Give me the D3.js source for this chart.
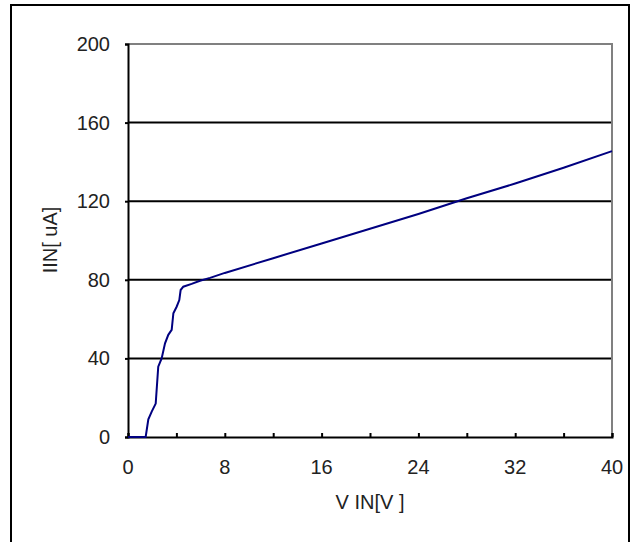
<!DOCTYPE html>
<html>
<head>
<meta charset="utf-8">
<script src="https://cdn.jsdelivr.net/npm/d3@7"></script>
<style>
  body { margin: 0; background: #fff; }
  text { font-family: "Liberation Sans", Arial, sans-serif; fill: #222; }
</style>
</head>
<body>
<svg id="chart" width="634" height="542"></svg>
<script>
// values
const vin = [0, 1.46, 1.68, 1.96, 2.29, 2.5, 2.78, 3.06, 3.33, 3.61, 3.75, 4.02, 4.24, 4.35, 4.57,
             5.26, 5.95, 6.78, 8, 12, 16, 20, 24, 28, 32, 36, 40];
const iin = [0, 0, 9, 12.9, 17, 35.8, 40, 47.7, 52, 54.5, 63, 66.3, 69.7, 74.8, 76.5,
             77.9, 79.5, 81, 83.5, 91, 98.5, 106, 113.5, 121.5, 129, 137, 145.5];
const xTicks = [0, 8, 16, 24, 32, 40];
const xMinor = [0, 4, 8, 12, 16, 20, 24, 28, 32, 36, 40];
const yTicks = [0, 40, 80, 120, 160, 200];

const svg = d3.select("#chart");
const plotL = 128, plotR = 612, plotT = 44, plotB = 437;

let x = d3.scaleLinear().domain([0, 40]).range([plotL, plotR]);
let y = d3.scaleLinear().domain([0, 200]).range([plotB, plotT]);

// outer frame
svg.append("rect")
    .attr("x", 11).attr("y", 5)
    .attr("width", 618).attr("height", 545)
    .attr("fill", "none").attr("stroke", "#000").attr("stroke-width", 2);

// gridlines
svg.selectAll("line.grid")
    .data(yTicks.filter(d => d > 0 && d < 200))
    .enter().append("line")
    .attr("class", "grid")
    .attr("x1", plotL).attr("x2", plotR)
    .attr("y1", d => y(d)).attr("y2", d => y(d))
    .attr("stroke", "#000").attr("stroke-width", 2);

// top / right border in gray
svg.append("path")
    .attr("d", `M${plotL},${y(200)}H${x(40)}V${y(0)}`)
    .attr("fill", "none").attr("stroke", "#808080").attr("stroke-width", 2);

// x axis
let xAxis = svg.append("g").attr("transform", `translate(0,${plotB})`);
xAxis.call(d3.axisBottom(x).tickValues(xMinor).tickSize(-4).tickFormat(""));
xAxis.select(".domain").attr("stroke", "#000").attr("stroke-width", 2);
xAxis.selectAll(".tick line").attr("stroke", "#000").attr("stroke-width", 2);

svg.selectAll("text.xlab")
    .data(xTicks)
    .enter().append("text")
    .attr("class", "xlab")
    .attr("x", d => x(d)).attr("y", 474)
    .attr("text-anchor", "middle")
    .attr("font-size", 20)
    .text(d => d);

// y axis
let yAxis = svg.append("g").attr("transform", `translate(${plotL},0)`);
yAxis.call(d3.axisLeft(y).tickValues(yTicks).tickSize(3).tickFormat(""));
yAxis.select(".domain").attr("stroke", "#000").attr("stroke-width", 2);
yAxis.selectAll(".tick line").attr("stroke", "#000").attr("stroke-width", 2);

svg.selectAll("text.ylab")
    .data(yTicks)
    .enter().append("text")
    .attr("class", "ylab")
    .attr("x", 110).attr("y", d => y(d) + 7)
    .attr("text-anchor", "end")
    .attr("font-size", 20)
    .text(d => d);

// axis titles
svg.append("text")
    .attr("x", 370).attr("y", 509)
    .attr("text-anchor", "middle")
    .attr("font-size", 20)
    .text("V IN[V ]");

svg.append("text")
    .attr("transform", "translate(57,240) rotate(-90)")
    .attr("text-anchor", "middle")
    .attr("font-size", 20)
    .text("IIN[ uA]");

// curve
let line = d3.line()
    .x((d, i) => x(vin[i]))
    .y((d, i) => y(iin[i]));

svg.append("path")
    .datum(vin)
    .attr("d", line)
    .attr("fill", "none")
    .attr("stroke", "#000080")
    .attr("stroke-width", 2);
</script>
</body>
</html>
